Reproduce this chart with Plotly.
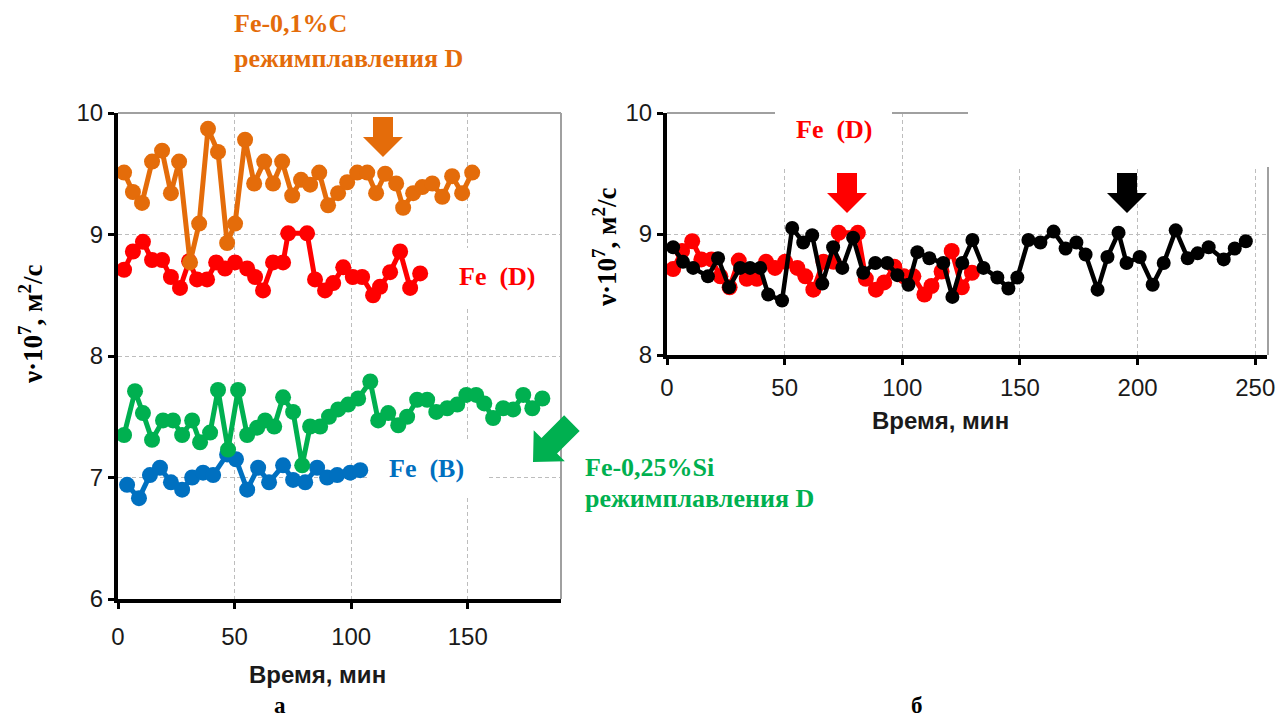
import math
import plotly.graph_objects as go

W, H = 1282, 720

# ---------------- data ----------------
# Fe-0,1%C, melting mode D
c_time = [2.6, 6.4, 10.3, 14.6, 18.9, 22.7, 26.2, 30.9, 34.8, 38.6, 42.9, 46.8, 50.2,
          54.5, 58.4, 62.7, 66.5, 70.4, 74.7, 78.5, 82.4, 86.3, 90.1, 94.4, 98.3, 102.6,
          106.9, 110.7, 114.6, 119.3, 122.3, 126.6, 130.5, 134.8, 139.1, 143.3, 147.6, 151.9]
c_visc = [9.51, 9.35, 9.26, 9.60, 9.69, 9.34, 9.60, 8.77, 9.09, 9.87, 9.68, 8.93, 9.09,
          9.78, 9.42, 9.60, 9.42, 9.60, 9.32, 9.45, 9.41, 9.51, 9.24, 9.34, 9.43, 9.51,
          9.51, 9.34, 9.50, 9.42, 9.22, 9.34, 9.39, 9.42, 9.31, 9.48, 9.34, 9.51]

# Fe, mode D
fe_d_time = [2.6, 6.4, 10.7, 14.6, 18.9, 22.7, 26.6, 30.5, 33.9, 38.2, 42.1, 45.9, 50.2,
             55.4, 58.8, 62.2, 66.5, 70.8, 73.0, 81.1, 84.5, 88.8, 92.3, 96.6, 100.7,
             104.7, 109.4, 112.4, 116.7, 121.0, 125.3, 129.6]
fe_d_visc = [8.71, 8.86, 8.94, 8.79, 8.79, 8.65, 8.56, 8.78, 8.63, 8.63, 8.77, 8.72, 8.77,
             8.72, 8.65, 8.54, 8.77, 8.77, 9.01, 9.01, 8.63, 8.54, 8.60, 8.73, 8.65,
             8.65, 8.50, 8.57, 8.69, 8.86, 8.56, 8.68]

# Fe-0,25%Si, mode D
si_time = [2.6, 7.3, 10.7, 14.6, 19.3, 23.6, 27.5, 31.8, 35.2, 39.5, 42.9, 47.2, 51.5,
           55.4, 59.7, 63.1, 67.0, 70.8, 75.1, 79.0, 82.4, 86.7, 90.5, 94.4, 98.7, 103.0,
           108.2, 111.6, 115.9, 120.2, 124.0, 128.3, 132.6, 136.5, 141.2, 145.5, 149.4,
           153.6, 157.1, 160.9, 165.2, 169.5, 173.8, 177.7, 182.0]
si_visc = [7.35, 7.71, 7.53, 7.31, 7.47, 7.47, 7.35, 7.47, 7.29, 7.37, 7.72, 7.23, 7.72,
           7.35, 7.41, 7.47, 7.42, 7.66, 7.54, 7.10, 7.42, 7.42, 7.50, 7.56, 7.60, 7.65,
           7.79, 7.47, 7.53, 7.43, 7.50, 7.64, 7.64, 7.54, 7.57, 7.60, 7.68,
           7.68, 7.61, 7.49, 7.57, 7.56, 7.68, 7.57, 7.65]

# Fe, mode B
fe_b_time = [3.9, 9.0, 13.7, 18.0, 22.7, 27.5, 31.8, 36.5, 40.8, 46.8, 50.6, 55.4, 60.1,
             64.8, 70.8, 75.1, 80.3, 85.4, 89.7, 94.0, 99.6, 103.9]
fe_b_visc = [6.94, 6.83, 7.02, 7.08, 6.96, 6.90, 7.00, 7.04, 7.02, 7.19, 7.15, 6.90, 7.08,
             6.96, 7.10, 6.98, 6.96, 7.08, 7.00, 7.02, 7.04, 7.06]

# Fe, long run (right panel)
fe_long_time = [2.6, 6.8, 11.1, 17.4, 21.7, 26.4, 31.1, 35.3, 39.6, 43.0, 48.9, 53.2, 57.9,
                61.7, 66.0, 70.6, 74.5, 79.1, 83.4, 88.5, 93.6, 97.9, 102.6, 106.4, 111.5,
                117.4, 121.3, 125.5, 129.8, 134.5, 140.4, 145.1, 148.9, 153.6, 158.7,
                164.3, 169.4, 174.0, 177.9, 183.0, 187.2, 191.9, 195.3, 200.9, 206.4,
                211.1, 216.2, 221.3, 225.5, 230.2, 236.6, 241.3, 246.0]
fe_long_visc = [8.89, 8.77, 8.72, 8.65, 8.80, 8.56, 8.72, 8.72, 8.72, 8.50, 8.45, 9.05, 8.93,
                8.99, 8.59, 8.89, 8.72, 8.97, 8.68, 8.76, 8.76, 8.66, 8.58, 8.85, 8.80,
                8.76, 8.48, 8.76, 8.95, 8.72, 8.64, 8.55, 8.64, 8.95, 8.93,
                9.02, 8.88, 8.93, 8.83, 8.54, 8.81, 9.01, 8.76, 8.81, 8.58,
                8.76, 9.03, 8.80, 8.84, 8.89, 8.79, 8.88, 8.94]

left_x_ticks = [0, 50, 100, 150]
left_y_ticks = [6, 7, 8, 9, 10]
right_x_ticks = [0, 50, 100, 150, 200, 250]
right_y_ticks = [8, 9, 10]

# ---------------- styling ----------------
ORANGE = "#E46C0A"
RED = "#FF0000"
GREEN = "#00B050"
BLUE = "#0070C0"
BLACK = "#000000"
GRID = "#BDBDBD"
FRAME = "#A0A0A0"
SANS = "Liberation Sans, Arial, sans-serif"
SERIF = "Liberation Serif, Times New Roman, serif"

# plot areas in pixels: x0, x1, y_top, y_bottom
LBOX = (118, 561, 113, 599)
RBOX = (667, 1267, 113, 355)
LX, LY = (0, 190), (6, 10)
RX, RY = (0, 255), (8, 10)


def px(x):
    return x / W


def py(y):
    return 1 - y / H


def to_data(box, xr, yr, x, y):
    dx = xr[0] + (x - box[0]) / (box[1] - box[0]) * (xr[1] - xr[0])
    dy = yr[1] - (y - box[2]) / (box[3] - box[2]) * (yr[1] - yr[0])
    return dx, dy


def arrow_path(tip, direction, shaft_len, head_len, shaft_hw, head_hw):
    tx, ty = tip
    n = math.hypot(*direction)
    dx, dy = direction[0] / n, direction[1] / n
    pxv, pyv = -dy, dx
    bx, by = tx - dx * head_len, ty - dy * head_len
    ex, ey = bx - dx * shaft_len, by - dy * shaft_len
    pts = [
        (ex + pxv * shaft_hw, ey + pyv * shaft_hw),
        (bx + pxv * shaft_hw, by + pyv * shaft_hw),
        (bx + pxv * head_hw, by + pyv * head_hw),
        (tx, ty),
        (bx - pxv * head_hw, by - pyv * head_hw),
        (bx - pxv * shaft_hw, by - pyv * shaft_hw),
        (ex - pxv * shaft_hw, ey - pyv * shaft_hw),
    ]
    return "M " + " L ".join(f"{px(a):.5f} {py(b):.5f}" for a, b in pts) + " Z"


fig = go.Figure()


def series(x, y, color, xa, ya, size, width):
    fig.add_trace(go.Scatter(
        x=x, y=y, mode="lines+markers", xaxis=xa, yaxis=ya,
        line=dict(color=color, width=width),
        marker=dict(color=color, size=size),
        showlegend=False, hoverinfo="skip",
    ))


# left panel
series(fe_b_time, fe_b_visc, BLUE, "x", "y", 16, 5)
series(si_time, si_visc, GREEN, "x", "y", 16, 5)
series(fe_d_time, fe_d_visc, RED, "x", "y", 16, 5)
series(c_time, c_visc, ORANGE, "x", "y", 16, 5)
# right panel
series(fe_d_time, fe_d_visc, RED, "x2", "y2", 16, 5)
series(fe_long_time, fe_long_visc, BLACK, "x2", "y2", 14, 4.5)

axis_common = dict(
    showline=True, linecolor=BLACK, linewidth=4,
    ticks="outside", ticklen=6, tickwidth=3, tickcolor=BLACK,
    showgrid=True, gridcolor=GRID, gridwidth=1, griddash="4px,3px",
    zeroline=False, tickfont=dict(family=SANS, size=24, color="#1a1a1a"),
    fixedrange=True, automargin=False,
)

fig.update_layout(
    width=W, height=H,
    margin=dict(l=0, r=0, t=0, b=0, pad=0, autoexpand=False),
    paper_bgcolor="white", plot_bgcolor="white",
    xaxis=dict(axis_common, domain=[px(LBOX[0]), px(LBOX[1])], range=list(LX),
               tickvals=left_x_ticks, anchor="y", ticklabelstandoff=7),
    yaxis=dict(axis_common, domain=[py(LBOX[3]), py(LBOX[2])], range=list(LY),
               tickvals=left_y_ticks, anchor="x"),
    xaxis2=dict(axis_common, domain=[px(RBOX[0]), px(RBOX[1])], range=list(RX),
                tickvals=right_x_ticks, anchor="y2", ticklabelstandoff=2),
    yaxis2=dict(axis_common, domain=[py(RBOX[3]), py(RBOX[2])], range=list(RY),
                tickvals=right_y_ticks, anchor="x2"),
)

shapes = []

# white label boxes over the grid (left panel)
for (x0, y0, x1, y1) in [(445, 248, 552, 306), (368, 442, 487, 495)]:
    a0, b0 = to_data(LBOX, LX, LY, x0, y1)
    a1, b1 = to_data(LBOX, LX, LY, x1, y0)
    shapes.append(dict(type="rect", xref="x", yref="y", x0=a0, x1=a1, y0=b0, y1=b1,
                       fillcolor="white", line=dict(width=0), layer="between"))
# white label boxes over the grid (right panel)
for (x0, y0, x1, y1) in [(775, 105, 892, 167), (968, 105, 1280, 167)]:
    a0, b0 = to_data(RBOX, RX, RY, x0, y1)
    a1, b1 = to_data(RBOX, RX, RY, x1, y0)
    shapes.append(dict(type="rect", xref="x2", yref="y2", x0=a0, x1=a1, y0=b0, y1=b1,
                       fillcolor="white", line=dict(width=0), layer="between"))

# grey frame segments
for (x0, y0, x1, y1) in [
    (LBOX[0], LBOX[2], LBOX[1], LBOX[2]),
    (LBOX[1], LBOX[2], LBOX[1], LBOX[3]),
    (RBOX[0], RBOX[2], 775, RBOX[2]),
    (892, RBOX[2], 968, RBOX[2]),
    (RBOX[1] + 1, 167, RBOX[1] + 1, RBOX[3]),
]:
    shapes.append(dict(type="line", xref="paper", yref="paper",
                       x0=px(x0), y0=py(y0), x1=px(x1), y1=py(y1),
                       line=dict(color=FRAME, width=2), layer="above"))

# arrows
for tip, direction, color, dims in [
    ((383, 157), (0, 1), ORANGE, (20, 20, 10, 20)),
    ((847, 213), (0, 1), RED, (20, 20, 10, 20)),
    ((1127, 213), (0, 1), BLACK, (20, 20, 10, 20)),
    ((533, 462), (-1, 1), GREEN, (32, 23, 11, 22)),
]:
    shapes.append(dict(type="path", xref="paper", yref="paper",
                       path=arrow_path(tip, direction, *dims),
                       fillcolor=color, line=dict(width=0), layer="above"))

fig.update_layout(shapes=shapes)

# text
ann = []


def text(s, x, y, color, size, family=SERIF, xanchor="center", yanchor="middle", angle=0):
    ann.append(dict(text=s, x=px(x), y=py(y), xref="paper", yref="paper",
                    xanchor=xanchor, yanchor=yanchor, showarrow=False,
                    textangle=angle, font=dict(family=family, size=size, color=color)))


NB = "\u00a0"
text("<b>Fe-0,1%C</b>", 232, 24, ORANGE, 26, xanchor="left")
text("<b>режимплавления D</b>", 232, 58, ORANGE, 26, xanchor="left")
text(f"<b>Fe{NB}{NB}(D)</b>", 497, 276, RED, 26)
text(f"<b>Fe{NB}{NB}(B)</b>", 426, 468, BLUE, 26)
text("<b>Fe-0,25%Si</b>", 583, 467, GREEN, 26, xanchor="left")
text("<b>режимплавления D</b>", 583, 498, GREEN, 26, xanchor="left")
text(f"<b>Fe{NB}{NB}(D)</b>", 834, 129, RED, 26)

ytitle = "<b>ν·10<sup>7</sup>, м<sup>2</sup>/с</b>"
text(ytitle, 31, 325, BLACK, 27, angle=-90)
text(ytitle, 605, 248, BLACK, 27, angle=-90)
text("<b>Время, мин</b>", 317, 674, "#1a1a1a", 24, family=SANS)
text("<b>Время, мин</b>", 940, 420, "#1a1a1a", 24, family=SANS)
text("<b>а</b>", 280, 720, BLACK, 23, yanchor="bottom")
text("<b>б</b>", 917, 720, BLACK, 23, yanchor="bottom")

fig.update_layout(annotations=ann)

fig.write_html("out.html")
